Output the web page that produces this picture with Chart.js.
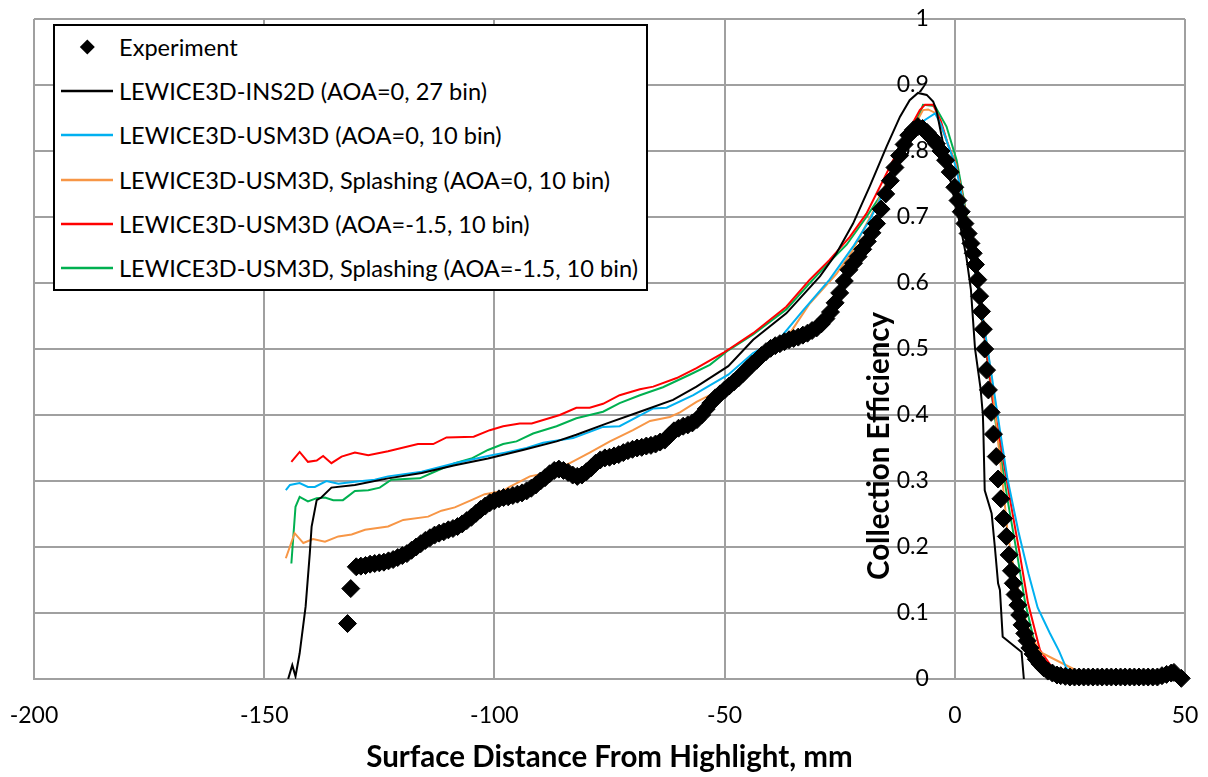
<!DOCTYPE html>
<html><head><meta charset="utf-8">
<script src="https://cdn.jsdelivr.net/npm/chart.js@4.4.1/dist/chart.umd.min.js"></script>
<style>
html,body{margin:0;padding:0;background:#fff;}
#wrap{position:relative;width:1208px;height:777px;}
#legend{position:absolute;left:53px;top:24px;width:595px;height:267px;box-sizing:border-box;border:2px solid #000;background:#fff;font-family:Lato,sans-serif;font-size:23.6px;color:#000;}
.row{position:absolute;left:0;height:44px;width:100%;}
.row svg{position:absolute;left:0;top:0;}
.row span{position:absolute;left:64px;top:0;line-height:44px;white-space:nowrap;}
</style></head><body>
<div id="wrap"><canvas id="c" width="1208" height="777"></canvas><div id="legend"></div></div>
<script>
// ---------- data ----------
const seriesLabels = [
  "Experiment",
  "LEWICE3D-INS2D (AOA=0, 27 bin)",
  "LEWICE3D-USM3D (AOA=0, 10 bin)",
  "LEWICE3D-USM3D, Splashing (AOA=0, 10 bin)",
  "LEWICE3D-USM3D (AOA=-1.5, 10 bin)",
  "LEWICE3D-USM3D, Splashing (AOA=-1.5, 10 bin)"
];
const seriesColors = ["#000000", "#000000", "#00B0F0", "#F79646", "#FF0000", "#00B050"];
const xTicks = [-200, -150, -100, -50, 0, 50];
const yTicks = [0, 0.1, 0.2, 0.3, 0.4, 0.5, 0.6, 0.7, 0.8, 0.9, 1];
const yTickLabels = ["0", "0.1", "0.2", "0.3", "0.4", "0.5", "0.6", "0.7", "0.8", "0.9", "1"];
const xTitle = "Surface Distance From Highlight, mm";
const yTitle = "Collection Efficiency";

const expX = [-131.9,-131.2,
 -130,-129,-128,-127,-126,-125,-124,-123,-122,-121,-120,-119,-118,-117,-116,-115,-114,-113,-112,-111,
 -110,-109,-108,-107,-106,-105,-104,-103,-102,-101,-100,-99,-98,-97,-96,-95,-94,-93,-92,-91,
 -90,-89,-88,-87,-86,-85,-84,-83,-82,-81,-80,-79,-78,-77,-76,-75,-74,-73,-72,-71,
 -70,-69,-68,-67,-66,-65,-64,-63,-62,-61,-60,-59,-58,-57,-56,-55,-54,-53,-52,-51,
 -50,-49,-48,-47,-46,-45,-44,-43,-42,-41,-40,-39,-38,-37,-36,-35,-34,-33,-32,-31,
 -30,-29,-28,-27,-26,-25,-24,-23,-22,-21,-20,-19,-18,-17,-16,-15,-14,-13,-12,-11,
 -10,-9,-8,-7,-6,-5,-4,-3,-2,-1,0,0.7,1.4,2.2,2.9,3.5,4.0,4.5,5.0,5.4,5.8,6.2,6.5,6.9,7.3,7.9,8.4,9.0,9.4,
 10.0,10.6,11.2,11.8,12.3,12.7,13.1,13.7,14.1,14.6,15.2,15.7,16.3,17.0,17.7,18.5,19.3,20.2,21.2,22.2,
 23,24,25,26,27,28,29,30,31,32,33,34,35,36,37,38,39,40,41,42,43,44,45,46,47,47.6,49.2];
const expY = [0.084,0.137,
 0.170,0.171,0.172,0.174,0.175,0.176,0.177,0.179,0.181,0.184,0.187,0.190,0.195,0.200,0.205,0.210,0.214,0.218,0.221,0.223,
 0.226,0.228,0.231,0.235,0.240,0.245,0.251,0.257,0.262,0.267,0.270,0.273,0.275,0.276,0.278,0.280,0.282,0.285,0.289,0.294,
 0.300,0.305,0.311,0.316,0.318,0.316,0.313,0.309,0.307,0.309,0.314,0.320,0.327,0.332,0.335,0.336,0.338,0.340,0.343,0.346,
 0.348,0.350,0.351,0.353,0.354,0.356,0.359,0.362,0.369,0.376,0.380,0.383,0.385,0.388,0.393,0.400,0.409,0.418,0.426,0.432,
 0.438,0.444,0.450,0.456,0.463,0.470,0.477,0.483,0.490,0.496,0.501,0.505,0.508,0.511,0.514,0.516,0.518,0.521,0.524,0.528,
 0.532,0.538,0.546,0.556,0.570,0.585,0.603,0.620,0.630,0.640,0.651,0.663,0.676,0.690,0.712,0.735,0.755,0.775,0.793,0.810,
 0.824,0.832,0.837,0.834,0.828,0.820,0.811,0.800,0.786,0.768,0.745,0.725,0.708,0.690,0.675,0.660,0.645,0.628,0.605,0.580,0.557,0.530,0.500,0.468,0.438,0.404,0.371,0.337,0.303,
 0.273,0.243,0.216,0.188,0.164,0.145,0.128,0.112,0.097,0.082,0.069,0.058,0.047,0.038,0.030,0.023,0.017,0.012,0.009,0.006,
 0.005,0.004,0.003,0.003,0.003,0.003,0.003,0.003,0.003,0.003,0.003,0.003,0.003,0.003,0.003,0.003,0.003,0.003,0.003,0.003,0.003,0.003,0.005,0.007,0.009,0.010,0.001];

const ins2dX = [-144.8,-143.9,-143.2,-142.3,-141.0,-140.1,-139.7,-138.6,-137.6,-135.4,-130.3,-123.1,-115.8,-108.6,-101.4,-93.8,-86.5,-82.2,-75.7,-68.4,-61.2,-56.1,-49.2,-43.8,-36.6,-29.3,-25.7,-22.1,-18.5,-14.8,-11.9,-9.8,-8.0,-6.1,-4.7,-4.0,-2.5,-0.5,1.1,2.5,3.5,4.4,5.6,6.1,6.2,6.5,8.0,8.7,9.4,9.8,10.4,14.5,15.0];
const ins2dY = [0.0,0.021,0.004,0.039,0.11,0.19,0.231,0.271,0.275,0.29,0.294,0.304,0.312,0.324,0.334,0.347,0.36,0.37,0.387,0.405,0.423,0.443,0.474,0.514,0.554,0.61,0.645,0.69,0.746,0.807,0.852,0.877,0.888,0.885,0.875,0.862,0.81,0.74,0.69,0.64,0.59,0.50,0.44,0.40,0.377,0.286,0.251,0.20,0.145,0.135,0.064,0.041,0.0];

const usmX = [-145.3,-144.4,-142.3,-140.5,-139.0,-136.5,-133.9,-130.3,-126.0,-123.1,-115.8,-108.6,-101.4,-97.7,-93.0,-89.4,-82.9,-76.4,-72.8,-65.5,-62.6,-56.8,-53.2,-49.2,-43.8,-38.0,-32.9,-27.2,-22.1,-18.5,-16.3,-12.0,-7.6,-6.5,-4.3,-3.0,-1.5,0.3,2.0,4.0,6.0,8.0,9.8,11.4,13.8,16.0,18.0,20.6,22.6,24.2,24.6];
const usmY = [0.286,0.294,0.297,0.291,0.291,0.300,0.296,0.299,0.302,0.307,0.314,0.327,0.338,0.343,0.350,0.358,0.365,0.382,0.383,0.410,0.411,0.430,0.445,0.461,0.494,0.516,0.559,0.605,0.655,0.695,0.726,0.790,0.840,0.847,0.857,0.840,0.810,0.775,0.715,0.635,0.550,0.460,0.377,0.305,0.224,0.160,0.108,0.070,0.043,0.017,0.014];

const usmSplX = [-145.3,-143.4,-141.5,-139.4,-136.8,-133.9,-131.0,-128.1,-123.1,-119.8,-114.4,-111.5,-108.6,-105.0,-102.1,-98.1,-96.7,-92.3,-88.7,-83.6,-79.3,-74.9,-69.9,-66.2,-61.9,-59.7,-56.1,-53.2,-49.2,-43.8,-35.8,-31.5,-25.7,-22.1,-19.9,-17.0,-15.6,-11.0,-6.9,-5.8,-4.0,-2.0,0.2,2.0,4.0,6.0,8.0,9.4,10.5,11.5,13.0,14.5,16.3,18.5,26.1];
const usmSplY = [0.183,0.221,0.206,0.212,0.208,0.216,0.219,0.226,0.231,0.241,0.246,0.255,0.260,0.271,0.280,0.285,0.291,0.307,0.312,0.327,0.343,0.360,0.377,0.391,0.397,0.404,0.420,0.430,0.453,0.488,0.524,0.569,0.614,0.650,0.680,0.718,0.741,0.810,0.862,0.863,0.857,0.820,0.780,0.720,0.640,0.555,0.455,0.360,0.290,0.220,0.160,0.110,0.070,0.041,0.014];

const usmNegX = [-144.1,-142.3,-140.5,-138.6,-137.2,-135.4,-133.2,-130.3,-127.4,-123.1,-116.6,-113.3,-110.4,-104.5,-101.0,-98.1,-94.5,-91.9,-85.8,-82.2,-79.3,-76.4,-72.8,-68.4,-65.5,-60.4,-56.1,-50.3,-43.8,-36.6,-31.5,-27.2,-22.8,-19.2,-13.4,-10.5,-7.6,-6.5,-4.7,-3.0,-1.5,0.3,2.0,4.0,5.5,7.0,8.3,9.8,11.9,14.1,15.9,18.5,21.0,21.5];
const usmNegY = [0.329,0.344,0.329,0.331,0.338,0.327,0.337,0.343,0.339,0.345,0.356,0.356,0.366,0.367,0.377,0.383,0.387,0.387,0.400,0.411,0.411,0.417,0.430,0.439,0.443,0.456,0.471,0.494,0.524,0.564,0.605,0.635,0.670,0.705,0.786,0.825,0.862,0.870,0.870,0.845,0.810,0.780,0.720,0.640,0.570,0.490,0.420,0.362,0.276,0.190,0.115,0.044,0.019,0.013];

const usmNegSplX = [-144.1,-143.2,-142.3,-140.5,-138.6,-136.8,-135.0,-132.9,-130.3,-127.4,-124.9,-122.4,-119.5,-116.2,-113.0,-108.6,-105.0,-101.4,-98.1,-95.2,-91.6,-86.5,-82.2,-76.4,-72.8,-68.4,-63.4,-57.6,-53.2,-49.2,-43.8,-36.6,-31.5,-27.2,-23.5,-19.2,-15.6,-14.5,-10.5,-7.6,-6.9,-4.3,-1.8,0.4,2.0,4.0,5.5,7.0,8.5,9.6,11.5,13.5,15.3,17.5,19.0,21.0];
const usmNegSplY = [0.175,0.261,0.276,0.269,0.274,0.275,0.271,0.271,0.285,0.286,0.290,0.302,0.303,0.304,0.314,0.327,0.334,0.347,0.356,0.360,0.372,0.383,0.395,0.405,0.418,0.430,0.442,0.461,0.476,0.498,0.522,0.560,0.600,0.632,0.658,0.700,0.738,0.756,0.820,0.857,0.870,0.868,0.837,0.786,0.725,0.640,0.570,0.485,0.405,0.355,0.270,0.190,0.115,0.050,0.025,0.018];

// ---------- chart ----------
const FONT = "Lato, 'DejaVu Sans', sans-serif";
const GRID = "#A0A0A0";
Chart.defaults.font.family = FONT;
Chart.defaults.color = "#000";

const pts = (xs, ys) => xs.map((x, i) => ({x: x, y: ys[i]}));
const lineSet = (i, xs, ys) => ({
  label: seriesLabels[i], data: pts(xs, ys), showLine: true, pointRadius: 0, pointHoverRadius: 0,
  borderColor: seriesColors[i], backgroundColor: seriesColors[i], borderWidth: 2, tension: 0, fill: false
});

const datasets = [
  { label: seriesLabels[0], data: pts(expX, expY), showLine: false, pointStyle: 'rectRot',
    pointRadius: 9, pointHoverRadius: 9, backgroundColor: '#000', borderColor: '#000', borderWidth: 1, clip: false },
  lineSet(1, ins2dX, ins2dY),
  lineSet(2, usmX, usmY),
  lineSet(3, usmSplX, usmSplY),
  lineSet(4, usmNegX, usmNegY),
  lineSet(5, usmNegSplX, usmNegSplY)
];

// y tick labels (drawn beside the y axis that crosses at x = 0) and the y title
const yAxisTextPlugin = {
  id: 'yAxisText',
  beforeDatasetsDraw(chart) {
    const ctx = chart.ctx;
    const xs = chart.scales.x, ys = chart.scales.y;
    const x0 = xs.getPixelForValue(0);
    ctx.save();
    ctx.fillStyle = '#000';
    ctx.font = "23px " + FONT;
    ctx.textAlign = 'right';
    ctx.textBaseline = 'middle';
    yTicks.forEach((v, i) => ctx.fillText(yTickLabels[i], x0 - 26, ys.getPixelForValue(v)));
    ctx.translate(x0 - 75, 446);
    ctx.rotate(-Math.PI / 2);
    ctx.font = "bold 29.5px " + FONT;
    ctx.textAlign = 'center';
    ctx.fillText(yTitle, 0, 0);
    ctx.restore();
  }
};

new Chart(document.getElementById('c'), {
  type: 'scatter',
  data: { datasets: datasets },
  options: {
    responsive: false, animation: false, devicePixelRatio: 1,
    layout: { padding: { left: 34, right: 23, top: 19, bottom: 0 } },
    plugins: { legend: { display: false }, tooltip: { enabled: false } },
    scales: {
      x: {
        type: 'linear', position: 'bottom', min: -200, max: 50,
        afterBuildTicks: s => { s.ticks = xTicks.map(v => ({value: v})); },
        afterFit: s => { s.height = 98; s.paddingLeft = 0; s.paddingRight = 0; },
        ticks: { font: { size: 23 }, padding: 23, maxRotation: 0, autoSkip: false, callback: v => String(v) },
        grid: { color: GRID, lineWidth: 2, drawTicks: false },
        border: { display: true, color: GRID, width: 2 },
        title: { display: true, text: xTitle, font: { size: 29.5, weight: 'bold' }, padding: { top: 2, bottom: 2 } }
      },
      y: {
        type: 'linear', position: { x: 0 }, min: 0, max: 1,
        afterBuildTicks: s => { s.ticks = yTicks.map(v => ({value: v})); },
        afterFit: s => { s.paddingTop = 0; s.paddingBottom = 0; },
        ticks: { display: false },
        grid: { color: GRID, lineWidth: 2, drawTicks: false },
        border: { display: false }
      }
    }
  },
  plugins: [yAxisTextPlugin]
});

// ---------- legend (HTML) ----------
const legend = document.getElementById('legend');
seriesLabels.forEach((lab, i) => {
  const row = document.createElement('div');
  row.className = 'row';
  row.style.top = (46.5 + i * 44.35 - 26 - 22) + 'px';
  const svgNS = 'http://www.w3.org/2000/svg';
  const svg = document.createElementNS(svgNS, 'svg');
  svg.setAttribute('width', '62'); svg.setAttribute('height', '44');
  if (i === 0) {
    const p = document.createElementNS(svgNS, 'polygon');
    p.setAttribute('points', '32.3,14.5 39.8,22 32.3,29.5 24.8,22');
    p.setAttribute('fill', '#000');
    svg.appendChild(p);
  } else {
    const l = document.createElementNS(svgNS, 'line');
    l.setAttribute('x1', '6'); l.setAttribute('x2', '58');
    l.setAttribute('y1', '22'); l.setAttribute('y2', '22');
    l.setAttribute('stroke', seriesColors[i]); l.setAttribute('stroke-width', '2.5');
    svg.appendChild(l);
  }
  row.appendChild(svg);
  const sp = document.createElement('span');
  sp.textContent = lab;
  row.appendChild(sp);
  legend.appendChild(row);
});
</script>
</body></html>
